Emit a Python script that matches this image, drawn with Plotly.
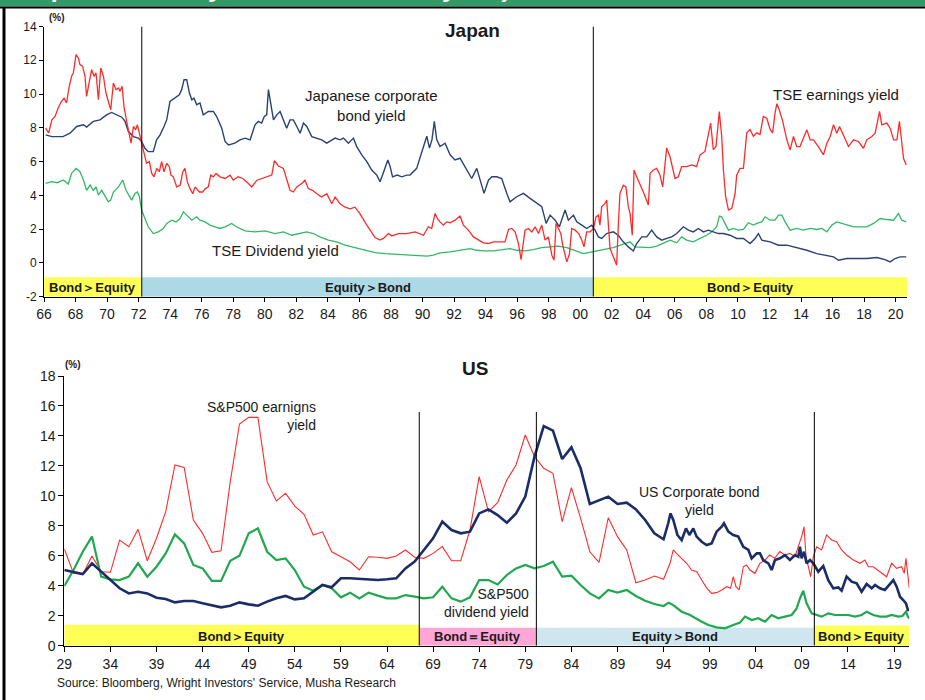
import plotly.graph_objects as go

W, H = 925, 700


def px(x):
    return x / W


def py(y):
    return 1 - y / H


# ---------------- Japan data ----------------
jp_earn_t = [1966.1, 1966.3, 1966.5, 1966.7, 1966.9, 1967.1, 1967.27, 1967.43, 1967.6, 1967.75, 1967.86,
             1968.03, 1968.18, 1968.28, 1968.45, 1968.6, 1968.7, 1968.87, 1969.02, 1969.17, 1969.3, 1969.45,
             1969.6, 1969.77, 1969.93, 1970.08, 1970.23, 1970.4, 1970.57, 1970.72, 1970.82, 1970.95, 1971.07,
             1971.24, 1971.41, 1971.52, 1971.67, 1971.81, 1971.92, 1972.05, 1972.19, 1972.34, 1972.5, 1972.68,
             1972.83, 1972.98, 1973.15, 1973.31, 1973.46, 1973.61, 1973.78, 1973.95, 1974.05, 1974.2, 1974.41,
             1974.63, 1974.8, 1974.94, 1975.09, 1975.26, 1975.43, 1975.58, 1975.68, 1975.85, 1976.06, 1976.23,
             1976.42, 1976.57, 1976.74, 1976.91, 1977.16, 1977.48, 1977.8, 1978.0, 1978.3, 1978.6, 1978.96,
             1979.17, 1979.5, 1979.8, 1980.23, 1980.44, 1980.61, 1980.86, 1981.18, 1981.39, 1981.6, 1981.81,
             1982.03, 1982.34, 1982.55, 1982.76, 1983.02, 1983.3, 1983.6, 1983.93, 1984.25, 1984.46, 1984.77,
             1985.09, 1985.41, 1985.72, 1986.04, 1986.36, 1986.68, 1986.99, 1987.31, 1987.52, 1987.84, 1988.05,
             1988.47, 1989.0, 1989.53, 1990.06, 1990.37, 1990.58, 1990.8, 1990.94, 1991.11, 1991.32, 1991.54,
             1991.75, 1992.06, 1992.38, 1992.59, 1992.91, 1993.23, 1993.54, 1993.86, 1994.18, 1994.5, 1994.92,
             1995.23, 1995.45, 1995.66, 1995.87, 1996.08, 1996.25, 1996.4, 1996.5, 1996.72, 1996.93, 1997.14,
             1997.35, 1997.56, 1997.77, 1997.98, 1998.2, 1998.34, 1998.47, 1998.62, 1998.77, 1998.89, 1999.0,
             1999.15, 1999.32, 1999.46, 1999.68, 1999.9, 2000.1, 2000.24, 2000.41, 2000.63, 2000.84, 2001.0,
             2001.15, 2001.25, 2001.36, 2001.57, 2001.68, 2001.78, 2001.89, 2002.1, 2002.31, 2002.42, 2002.52,
             2002.73, 2002.9, 2003.05, 2003.16, 2003.3, 2003.41, 2003.58, 2003.79, 2004.0, 2004.2, 2004.32,
             2004.43, 2004.64, 2004.85, 2005.06, 2005.23, 2005.38, 2005.48, 2005.69, 2005.86, 2006.01, 2006.22,
             2006.43, 2006.75, 2007.07, 2007.38, 2007.6, 2007.91, 2008.12, 2008.27, 2008.44, 2008.61, 2008.82,
             2008.97, 2009.08, 2009.22, 2009.4, 2009.61, 2009.82, 2009.92, 2010.13, 2010.35, 2010.56, 2010.77,
             2010.98, 2011.19, 2011.4, 2011.61, 2011.83, 2012.04, 2012.2, 2012.35, 2012.47, 2012.62, 2012.84,
             2013.1, 2013.31, 2013.52, 2013.73, 2013.94, 2014.15, 2014.37, 2014.58, 2014.79, 2015.1, 2015.42,
             2015.64, 2015.85, 2016.06, 2016.27, 2016.44, 2016.7, 2017.01, 2017.33, 2017.64, 2017.96, 2018.17,
             2018.49, 2018.7, 2018.98, 2019.12, 2019.44, 2019.65, 2019.87, 2020.08, 2020.24, 2020.39, 2020.5,
             2020.67]
jp_earn_v = [7.98, 7.7, 8.47, 8.67, 9.17, 9.56, 9.76, 9.47, 10.46, 11.05, 11.25,
             12.34, 12.14, 11.74, 11.64, 11.05, 9.86, 10.65, 11.45, 11.05, 11.25, 9.66,
             11.54, 11.05, 10.06, 9.56, 9.07, 10.65, 10.26, 10.36, 10.16, 10.46, 9.27,
             8.38, 7.49, 7.09, 8.08, 7.88, 8.18, 7.68, 7.09, 6.5, 5.9, 6.0,
             5.3, 5.1, 5.6, 5.4, 6.0, 5.4, 5.9, 5.7, 5.2, 5.1, 4.5,
             4.6, 5.4, 5.6, 4.8, 4.4, 4.1, 4.5, 4.4, 4.2, 4.2, 4.4,
             4.5, 5.2, 5.1, 5.3, 5.1, 5.0, 5.2, 4.9, 5.1, 5.0, 4.7,
             4.5, 4.9, 5.0, 5.1, 5.2, 6.06, 5.74, 5.6, 4.9, 4.3, 4.2,
             4.5, 4.7, 4.9, 4.4, 4.3, 4.1, 3.9, 4.1, 3.5, 3.9, 3.5,
             3.3, 3.2, 3.3, 2.9, 2.4, 1.9, 1.5, 1.35, 1.45, 1.74, 1.6,
             1.74, 1.74, 1.84, 1.64, 2.14, 2.04, 2.93, 2.63, 2.43, 2.24, 2.43,
             2.38, 2.53, 2.77, 2.24, 1.94, 1.54, 1.35, 1.19, 1.15, 1.25, 1.25,
             1.25, 1.98, 2.04, 1.84, 1.15, 0.2, 1.35, 1.94, 2.04, 1.84, 2.14,
             1.74, 2.24, 1.35, 1.54, 0.46, 0.16, 2.34, 2.04, 1.74, 1.05, 0.55,
             0.06, 0.55, 2.04, 1.94, 1.74, 1.35, 0.95, 1.84, 1.84, 2.04, 2.73,
             2.83, 2.24, 3.33, 3.52, 3.72, 2.14, 0.85, 0.36, -0.14, 2.34, 4.12,
             4.6, 4.5, 3.33, 2.93, 1.64, 5.5, 5.1, 4.7, 4.2, 3.72, 3.43,
             5.3, 5.5, 5.6, 5.2, 4.5, 6.1, 6.8, 6.3, 5.5, 5.0, 5.1,
             5.7, 5.7, 5.8, 5.7, 6.4, 6.6, 7.7, 8.28, 6.7, 6.9, 8.97,
             7.5, 5.5, 3.92, 3.13, 3.23, 4.1, 5.2, 5.6, 5.6, 7.7, 7.9,
             7.5, 7.7, 7.6, 8.67, 8.57, 7.9, 7.7, 8.87, 9.43, 9.07, 8.38,
             7.29, 6.69, 7.49, 6.89, 6.89, 7.39, 7.88, 7.29, 7.29, 6.89, 6.4,
             7.09, 7.49, 8.18, 7.68, 8.08, 7.58, 6.89, 7.29, 7.19, 6.79, 7.29,
             7.49, 7.68, 8.97, 8.18, 8.28, 7.98, 7.29, 7.29, 8.38, 7.29, 6.2,
             5.8]

jp_bond_t = [1966.1, 1966.5, 1967.2, 1967.65, 1968.07, 1968.5, 1968.7, 1969.13, 1969.55, 1969.97, 1970.29,
             1970.6, 1970.93, 1971.14, 1971.35, 1971.67, 1971.98, 1972.19, 1972.4, 1972.61, 1972.93, 1973.14,
             1973.36, 1973.61, 1973.78, 1973.99, 1974.3, 1974.58, 1974.73, 1974.88, 1975.05, 1975.22, 1975.37,
             1975.51, 1975.68, 1975.89, 1976.1, 1976.42, 1976.74, 1976.95, 1977.27, 1977.48, 1977.7, 1978.1,
             1978.43, 1978.75, 1979.07, 1979.38, 1979.59, 1979.8, 1979.97, 1980.12, 1980.23, 1980.4, 1980.55,
             1980.76, 1980.97, 1981.18, 1981.39, 1981.6, 1981.81, 1982.03, 1982.24, 1982.45, 1982.66, 1982.98,
             1983.3, 1983.61, 1983.93, 1984.25, 1984.46, 1984.77, 1984.99, 1985.3, 1985.62, 1985.83, 1986.15,
             1986.47, 1986.78, 1987.1, 1987.31, 1987.58, 1987.8, 1987.95, 1988.1, 1988.4, 1988.68, 1989.0,
             1989.21, 1989.63, 1990.06, 1990.27, 1990.44, 1990.6, 1990.75, 1990.9, 1991.11, 1991.43, 1991.75,
             1992.06, 1992.38, 1992.7, 1993.12, 1993.44, 1993.65, 1993.9, 1994.18, 1994.4, 1994.71, 1995.02,
             1995.34, 1995.55, 1995.97, 1996.4, 1996.82, 1997.24, 1997.56, 1997.84, 1998.09, 1998.41, 1998.68,
             1999.04, 1999.25, 1999.57, 1999.78, 2000.1, 2000.41, 2000.73, 2000.94, 2001.15, 2001.36, 2001.67,
             2002.1, 2002.41, 2002.73, 2003.05, 2003.37, 2003.58, 2003.9, 2004.22, 2004.53, 2004.85, 2005.17,
             2005.48, 2005.8, 2006.12, 2006.54, 2006.86, 2007.17, 2007.49, 2007.81, 2008.12, 2008.44, 2008.76,
             2009.08, 2009.5, 2009.92, 2010.35, 2010.77, 2011.09, 2011.3, 2011.51, 2012.04, 2012.57, 2013.1,
             2013.52, 2013.94, 2014.37, 2015.0, 2015.64, 2016.06, 2016.38, 2016.9, 2017.54, 2018.17, 2018.8,
             2019.33, 2019.65, 2019.97, 2020.29, 2020.67]
jp_bond_v = [7.58, 7.48, 7.48, 7.68, 8.08, 8.18, 8.04, 8.38, 8.47, 8.77, 8.91,
             8.77, 8.63, 8.38, 7.78, 7.48, 7.39, 7.19, 6.79, 6.59, 6.59, 7.29,
             7.58, 8.08, 8.47, 9.56, 9.76, 9.96, 10.26, 10.85, 10.85, 10.06, 9.66,
             9.76, 9.37, 9.47, 8.77, 8.97, 8.97, 8.67, 7.98, 7.19, 6.99, 7.09,
             7.29, 7.39, 7.29, 8.18, 8.38, 8.28, 8.67, 8.77, 10.26, 9.37, 8.47,
             8.77, 8.97, 8.47, 7.98, 8.47, 8.47, 8.08, 7.68, 8.28, 8.08, 7.48,
             7.39, 7.29, 7.09, 7.29, 7.39, 7.29, 7.39, 7.09, 7.39, 6.89, 6.4,
             6.0, 5.5, 5.2, 4.81, 5.5, 6.1, 5.7, 5.1, 5.2, 5.1, 5.2,
             5.2, 5.6, 6.9, 7.5, 6.8, 7.3, 8.38, 7.3, 6.89, 7.09, 6.4,
             6.1, 6.2, 5.7, 5.0, 5.6, 4.9, 4.12, 4.9, 5.1, 5.1, 5.0,
             4.12, 3.62, 3.92, 4.12, 3.82, 3.52, 3.33, 2.34, 2.83, 2.53, 2.14,
             3.13, 2.53, 2.83, 2.43, 2.24, 2.04, 2.24, 1.94, 1.54, 1.45, 1.74,
             1.84, 1.64, 1.25, 0.95, 0.71, 1.15, 1.54, 1.54, 1.94, 1.54, 1.35,
             1.45, 1.54, 1.74, 2.14, 1.94, 1.84, 2.04, 1.84, 1.94, 1.84, 1.74,
             1.74, 1.64, 1.45, 1.45, 1.15, 1.45, 1.74, 1.35, 1.25, 1.05, 1.05,
             0.95, 0.85, 0.75, 0.55, 0.46, 0.36, 0.16, 0.26, 0.26, 0.26, 0.32,
             0.2, 0.06, 0.26, 0.36, 0.36]

jp_div_t = [1966.1, 1966.5, 1966.85, 1967.23, 1967.54, 1967.75, 1968.03, 1968.28, 1968.5, 1968.7, 1968.92,
            1969.13, 1969.3, 1969.45, 1969.66, 1969.87, 1970.08, 1970.23, 1970.4, 1970.72, 1970.99, 1971.2,
            1971.41, 1971.56, 1971.77, 1971.92, 1972.05, 1972.19, 1972.4, 1972.61, 1972.93, 1973.25, 1973.57,
            1973.78, 1974.1, 1974.37, 1974.63, 1974.84, 1975.05, 1975.37, 1975.68, 1975.89, 1976.21, 1976.53,
            1976.85, 1977.16, 1977.48, 1977.9, 1978.2, 1978.75, 1979.38, 1980.02, 1980.65, 1981.18, 1981.71,
            1982.13, 1982.66, 1983.08, 1983.5, 1984.03, 1984.56, 1985.09, 1985.73, 1986.36, 1986.99, 1987.63,
            1988.26, 1988.9, 1989.5, 1989.84, 1990.3, 1990.69, 1991.11, 1991.75, 1992.38, 1993.02, 1993.44,
            1993.86, 1994.5, 1995.13, 1995.55, 1995.97, 1996.5, 1997.03, 1997.56, 1998.09, 1998.62, 1999.15,
            1999.68, 2000.2, 2000.73, 2001.2, 2001.47, 2002.1, 2002.73, 2003.16, 2003.47, 2004.0, 2004.43,
            2004.85, 2005.27, 2005.7, 2006.12, 2006.43, 2006.75, 2007.17, 2007.6, 2008.02, 2008.34, 2008.65,
            2008.82, 2008.97, 2009.18, 2009.4, 2009.71, 2010.03, 2010.35, 2010.66, 2010.98, 2011.2, 2011.51,
            2011.72, 2012.04, 2012.35, 2012.57, 2012.78, 2012.99, 2013.31, 2013.73, 2014.15, 2014.58, 2015.0,
            2015.32, 2015.64, 2015.95, 2016.27, 2016.59, 2016.9, 2017.33, 2017.75, 2018.17, 2018.6, 2019.02,
            2019.44, 2019.87, 2020.18, 2020.39, 2020.67]
jp_div_v = [4.71, 4.81, 4.75, 4.91, 4.67, 5.3, 5.6, 5.4, 4.91, 4.3, 4.61,
            4.3, 4.5, 4.02, 4.3, 3.92, 3.62, 3.72, 4.2, 4.5, 4.91, 4.3,
            3.92, 3.72, 4.12, 4.2, 3.92, 3.13, 2.63, 2.14, 1.74, 1.84, 2.04,
            2.34, 2.53, 2.43, 2.63, 3.03, 2.83, 2.53, 2.73, 2.53, 2.43, 2.24,
            2.14, 2.04, 2.14, 2.34, 2.14, 1.9, 1.84, 1.9, 1.74, 1.84, 1.64,
            1.74, 1.84, 1.74, 1.54, 1.35, 1.25, 1.05, 0.91, 0.75, 0.61, 0.55,
            0.51, 0.46, 0.44, 0.4, 0.4, 0.46, 0.59, 0.65, 0.75, 0.85, 0.75,
            0.71, 0.71, 0.79, 0.85, 0.75, 0.71, 0.79, 0.91, 0.95, 0.99, 0.91,
            0.75, 0.55, 0.65, 0.75, 0.79, 0.91, 1.11, 1.25, 0.95, 0.95, 0.91,
            0.99, 1.15, 1.35, 1.19, 1.54, 1.35, 1.25, 1.45, 1.64, 1.84, 2.14,
            2.77, 2.73, 2.34, 1.94, 2.04, 1.94, 1.98, 2.38, 2.24, 2.34, 2.43,
            2.73, 2.53, 2.53, 2.83, 2.83, 2.43, 1.94, 2.04, 1.94, 2.04, 1.98,
            2.04, 1.84, 2.24, 2.43, 2.34, 2.24, 2.14, 2.14, 2.14, 2.34, 2.63,
            2.57, 2.53, 2.93, 2.53, 2.43]

jp_xtick_vals = list(range(1966, 2021, 2))
jp_xtick_labels = ["66", "68", "70", "72", "74", "76", "78", "80", "82", "84", "86", "88", "90", "92",
                   "94", "96", "98", "00", "02", "04", "06", "08", "10", "12", "14", "16", "18", "20"]
jp_ytick_vals = [-2, 0, 2, 4, 6, 8, 10, 12, 14]
jp_ytick_labels = ["-2", "0", "2", "4", "6", "8", "10", "12", "14"]

jp_regime_start = [1966.0, 1972.2, 2000.83]
jp_regime_end = [1972.2, 2000.83, 2020.72]
jp_regime_label = ["Bond＞Equity", "Equity＞Bond", "Bond＞Equity"]
jp_divider_years = [1972.2, 2000.83]

# ---------------- US data ----------------
us_earn_t = list(range(1929, 1995)) + [
    1994.7, 1995.05, 1995.5, 1995.96, 1996.5, 1997.04, 1997.6, 1998.13, 1998.7, 1999.21, 1999.75, 2000.3,
    2000.85, 2001.27, 2001.56, 2001.85, 2002.2, 2002.65, 2003.0, 2003.37, 2003.9, 2004.45, 2005.0, 2005.5,
    2006.05, 2006.6, 2007.16, 2007.7, 2008.25, 2008.72, 2008.98, 2009.23, 2009.45, 2009.7, 2009.95, 2010.24,
    2010.6, 2011.14, 2011.68, 2012.23, 2012.77, 2013.31, 2013.85, 2014.58, 2015.3, 2015.84, 2016.2, 2016.75,
    2017.47, 2018.19, 2018.73, 2019.28, 2019.82, 2020.1, 2020.29, 2020.5, 2020.65]
us_earn_v = [6.45, 4.83, 4.76, 5.99, 4.94, 4.9, 7.05, 6.61, 7.77, 5.67, 7.17, 8.95, 12.06, 11.9, 8.39, 7.5,
             6.23, 6.34, 10.95, 14.8, 15.24, 15.24, 10.95, 9.66, 10.17, 9.32, 8.77, 7.39, 7.6, 6.27, 5.94,
             5.6, 5.05, 5.94, 5.9, 5.83, 5.99, 6.39, 5.9, 5.83, 6.16, 6.61, 5.67, 5.67, 7.72, 11.28, 8.95,
             9.55, 11.06, 12.06, 14.06, 12.62, 11.84, 11.5, 8.28, 10.55, 8.5, 6.27, 5.56, 8.54, 7.28, 6.39,
             4.2, 4.38, 4.65, 4.43,
             5.5, 6.39, 6.1, 5.83, 5.5, 5.05, 4.94, 4.38, 3.83, 3.49, 3.54, 3.72,
             3.94, 3.83, 4.61, 3.94, 3.72, 5.27, 5.39, 5.05, 4.83, 5.5, 5.72, 6.05,
             5.83, 6.28, 6.05, 6.16, 5.94, 6.83, 7.28, 7.94, 5.94, 5.27, 4.6, 5.94,
             6.6, 6.39, 7.39, 7.06, 6.94, 6.39, 6.05, 5.72, 5.5, 5.72, 5.27, 5.27,
             4.94, 4.6, 5.5, 5.16, 5.27, 4.83, 5.83, 4.83, 3.83]

us_div_t = list(range(1929, 1995)) + [
    1994.55, 1995.05, 1995.96, 1996.86, 1997.95, 1998.85, 1999.75, 2000.66, 2001.56, 2002.28, 2002.83, 2003.55,
    2004.27, 2005.0, 2005.72, 2006.44, 2007.16, 2007.89, 2008.43, 2008.79, 2009.15, 2009.51, 2010.06, 2010.6,
    2011.14, 2011.86, 2012.59, 2013.31, 2014.03, 2014.76, 2015.48, 2016.02, 2016.75, 2017.47, 2018.19, 2018.73,
    2019.46, 2019.9, 2020.29, 2020.5, 2020.65]
us_div_v = [3.98, 5.05, 6.27, 7.28, 4.61, 4.43, 4.38, 4.61, 5.5, 4.61, 5.27, 6.16, 7.43, 6.83, 5.39, 5.16,
            4.32, 4.32, 5.67, 6.0, 7.5, 7.83, 6.27, 5.72, 5.83, 5.05, 3.94, 3.67, 4.05, 3.83, 3.23, 3.54,
            3.16, 3.54, 3.34, 3.16, 3.16, 3.38, 3.27, 3.16, 3.23, 3.94, 3.16, 2.94, 3.23, 4.38, 4.38, 4.09,
            4.72, 5.16, 5.39, 5.16, 5.32, 5.61, 4.61, 4.67, 4.05, 3.49, 3.16, 3.72, 3.54, 3.72, 3.32, 3.0,
            2.78, 2.65,
            2.87, 2.71, 2.27, 2.05, 1.67, 1.38, 1.22, 1.16, 1.38, 1.54, 1.94, 1.71,
            1.83, 1.6, 2.05, 1.83, 1.94, 2.05, 2.49, 3.16, 3.67, 2.83, 2.16, 2.05,
            1.94, 2.16, 2.05, 2.05, 2.05, 1.94, 2.05, 2.27, 2.05, 1.94, 1.94, 2.05,
            1.94, 1.98, 2.27, 1.94, 1.83]

us_bond_t = list(range(1929, 1995)) + [
    1994.5, 1994.75, 1995.05, 1995.5, 1995.96, 1996.43, 1996.8, 1997.22, 1997.58, 1998.13, 1998.67, 1999.21,
    1999.75, 2000.3, 2000.55, 2001.02, 2001.56, 2002.1, 2002.65, 2003.2, 2003.55, 2004.1, 2004.45, 2004.8,
    2005.36, 2005.72, 2006.08, 2006.62, 2007.16, 2007.7, 2008.25, 2008.61, 2008.79, 2008.97, 2009.23, 2009.51,
    2009.88, 2010.24, 2010.78, 2011.32, 2011.86, 2012.41, 2012.95, 2013.31, 2013.85, 2014.4, 2014.94, 2015.48,
    2016.02, 2016.57, 2016.93, 2017.47, 2018.0, 2018.55, 2018.92, 2019.28, 2019.64, 2019.99, 2020.29, 2020.5,
    2020.65]
us_bond_v = [5.05, 4.94, 4.78, 5.5, 4.94, 4.34, 3.83, 3.49, 3.6, 3.49, 3.2, 3.12, 2.89, 2.98, 2.98, 2.83,
             2.67, 2.56, 2.67, 2.89, 2.76, 2.67, 2.94, 3.16, 3.32, 3.09, 3.16, 3.6, 4.05, 3.9, 4.5, 4.5,
             4.45, 4.43, 4.38, 4.43, 4.5, 5.16, 5.61, 6.39, 7.17, 8.28, 7.72, 7.5, 7.61, 8.83, 9.1, 8.72,
             8.21, 8.83, 9.95, 12.62, 14.66, 14.35, 12.46, 13.24, 11.84, 9.46, 9.68, 9.95, 9.46, 9.55, 9.1,
             8.39, 7.5, 7.1,
             8.17, 8.83, 8.39, 7.39, 7.05, 7.83, 7.39, 7.83, 7.28, 6.94, 6.72, 6.83,
             7.61, 7.94, 8.17, 7.61, 7.39, 7.28, 6.6, 6.39, 5.83, 6.16, 6.16, 5.72,
             5.5, 5.05, 5.72, 5.83, 6.05, 5.72, 6.05, 5.94, 6.6, 5.83, 6.27, 5.5,
             5.72, 5.5, 4.94, 5.32, 4.38, 3.83, 3.89, 3.67, 4.61, 4.27, 4.16, 3.6,
             4.12, 3.83, 4.05, 3.83, 3.72, 4.16, 4.38, 3.94, 3.27, 3.05, 2.83, 2.38,
             2.38]

us_xtick_vals = list(range(1929, 2020, 5))
us_xtick_labels = ["29", "34", "39", "44", "49", "54", "59", "64", "69", "74", "79", "84", "89", "94",
                   "99", "04", "09", "14", "19"]
us_ytick_vals = [0, 2, 4, 6, 8, 10, 12, 14, 16, 18]

us_regime_start = [1929.0, 1967.5, 1980.2, 2010.35]
us_regime_end = [1967.5, 1980.2, 2010.35, 2020.65]
us_regime_label = ["Bond＞Equity", "Bond＝Equity", "Equity＞Bond", "Bond＞Equity"]
us_divider_years = [1967.5, 1980.2, 2010.35]

# ---------------- styling ----------------
FONT = "Liberation Sans, Arial, sans-serif"
TXT = "#1a1a1a"
RED = "#ff2a2a"
NAVY_JP = "#2a4174"
GREEN_JP = "#33b866"
NAVY_US = "#1b2d66"
GREEN_US = "#1fa84f"
YELLOW = "#ffff55"
JP_BLUE = "#add8e6"
US_BLUE = "#cfe6ef"
PINK = "#ffa6d6"

fig = go.Figure()

# Japan traces
fig.add_trace(go.Scatter(x=jp_div_t, y=jp_div_v, mode="lines", line=dict(color=GREEN_JP, width=1.3),
                         xaxis="x", yaxis="y", hoverinfo="skip"))
fig.add_trace(go.Scatter(x=jp_bond_t, y=jp_bond_v, mode="lines", line=dict(color=NAVY_JP, width=1.4),
                         xaxis="x", yaxis="y", hoverinfo="skip"))
fig.add_trace(go.Scatter(x=jp_earn_t, y=jp_earn_v, mode="lines", line=dict(color=RED, width=1.3),
                         xaxis="x", yaxis="y", hoverinfo="skip"))

# US traces
fig.add_trace(go.Scatter(x=us_earn_t, y=us_earn_v, mode="lines", line=dict(color=RED, width=1.1),
                         xaxis="x2", yaxis="y2", hoverinfo="skip"))
fig.add_trace(go.Scatter(x=us_div_t, y=us_div_v, mode="lines", line=dict(color=GREEN_US, width=2.2),
                         xaxis="x2", yaxis="y2", hoverinfo="skip"))
fig.add_trace(go.Scatter(x=us_bond_t, y=us_bond_v, mode="lines", line=dict(color=NAVY_US, width=2.6),
                         xaxis="x2", yaxis="y2", hoverinfo="skip"))

shapes = []
annotations = []

# header bar
shapes.append(dict(type="rect", xref="paper", yref="paper", x0=0, x1=1, y0=py(6.5), y1=1,
                   fillcolor="#339966", line=dict(width=0), layer="above"))
shapes.append(dict(type="line", xref="paper", yref="paper", x0=0, x1=1, y0=py(7.5), y1=py(7.5),
                   line=dict(color="black", width=2), layer="above"))
shapes.append(dict(type="line", xref="paper", yref="paper", x0=px(4), x1=px(4), y0=0, y1=py(7),
                   line=dict(color="black", width=3), layer="above"))
annotations.append(dict(xref="paper", yref="paper", x=px(6), y=py(5), xanchor="left", yanchor="bottom",
                        text="<b><i>Corporate bond yield and dividend yield)</i></b>", showarrow=False,
                        font=dict(family=FONT, size=26, color="white")))

# Japan regime bands
jp_colors = [YELLOW, JP_BLUE, YELLOW]
for s, e, lab, c in zip(jp_regime_start, jp_regime_end, jp_regime_label, jp_colors):
    shapes.append(dict(type="rect", xref="x", yref="y", x0=s, x1=e, y0=-2, y1=-0.85,
                       fillcolor=c, line=dict(width=0), layer="below"))
    annotations.append(dict(xref="x", yref="y", x=(s + e) / 2, y=-1.45, text="<b>" + lab + "</b>",
                            showarrow=False, font=dict(family=FONT, size=13, color=TXT)))
for d in jp_divider_years:
    shapes.append(dict(type="line", xref="x", yref="y", x0=d, x1=d, y0=-2, y1=14,
                       line=dict(color="black", width=1), layer="above"))

# US regime bands
us_colors = [YELLOW, PINK, US_BLUE, YELLOW]
us_tops = [1.4, 1.2, 1.2, 1.35]
for s, e, lab, c, t in zip(us_regime_start, us_regime_end, us_regime_label, us_colors, us_tops):
    shapes.append(dict(type="rect", xref="x2", yref="y2", x0=s, x1=e, y0=0, y1=t,
                       fillcolor=c, line=dict(width=0), layer="below"))
    annotations.append(dict(xref="x2", yref="y2", x=(s + e) / 2, y=0.62, text="<b>" + lab + "</b>",
                            showarrow=False, font=dict(family=FONT, size=13, color=TXT)))
for d in us_divider_years:
    shapes.append(dict(type="line", xref="x2", yref="y2", x0=d, x1=d, y0=0, y1=15.6,
                       line=dict(color="black", width=1), layer="above"))


def note(x, y, text, size=13, bold=False, align="center", xanchor="center"):
    t = "<b>" + text + "</b>" if bold else text
    annotations.append(dict(xref="paper", yref="paper", x=px(x), y=py(y), text=t, showarrow=False,
                            align=align, xanchor=xanchor, yanchor="middle",
                            font=dict(family=FONT, size=size, color=TXT)))


note(472, 31, "Japan", size=19, bold=True)
note(475, 368, "US", size=19, bold=True)
note(57, 18, "(%)", size=10, bold=True)
note(73, 364, "(%)", size=10, bold=True)
note(371, 105, "Japanese corporate<br>bond yield", size=15)
note(836, 94, "TSE earnings yield", size=15)
note(275, 250, "TSE Dividend yield", size=15)
note(318, 416, "S&P500 earnigns<br>yield", size=14, align="right", xanchor="right")
note(531, 603, "S&P500<br>dividend yield", size=14, align="right", xanchor="right")
note(699, 501, "US Corporate bond<br>yield", size=14)
note(55, 683, "Source: Bloomberg, Wright Investors' Service, Musha Research", size=12, align="left",
     xanchor="left")

axis_common = dict(showline=True, linecolor="black", linewidth=1, showgrid=False, zeroline=False,
                   ticks="outside", tickcolor="black", tickwidth=1, fixedrange=True, automargin=False)

fig.update_layout(
    template="none",
    width=W, height=H, margin=dict(l=0, r=0, t=0, b=0, pad=0), autosize=False,
    paper_bgcolor="white", plot_bgcolor="white", showlegend=False,
    font=dict(family=FONT, color=TXT),
    xaxis=dict(domain=[px(44), px(907)], range=[1966, 2020.72], anchor="y",
               tickvals=jp_xtick_vals, ticktext=jp_xtick_labels, ticklen=4,
               tickfont=dict(size=14, color=TXT), **axis_common),
    yaxis=dict(domain=[py(296.7), py(26.5)], range=[-2, 14], anchor="x",
               tickvals=jp_ytick_vals, ticktext=jp_ytick_labels, ticklen=4,
               tickfont=dict(size=12, color=TXT), **axis_common),
    xaxis2=dict(domain=[px(64.3), px(909.3)], range=[1929, 2020.65], anchor="y2",
                tickvals=us_xtick_vals, ticktext=us_xtick_labels, ticklen=5,
                tickfont=dict(size=14, color=TXT), **axis_common),
    yaxis2=dict(domain=[py(645.7), py(376)], range=[0, 18], anchor="x2",
                tickvals=us_ytick_vals, ticklen=5,
                tickfont=dict(size=14, color=TXT), **axis_common),
    shapes=shapes,
    annotations=annotations,
)

fig.write_html(
    "out.html",
    config={"displayModeBar": False, "staticPlot": True},
    post_script="document.body.style.margin='0';document.body.style.padding='0';"
                "document.body.style.overflow='hidden';",
)
